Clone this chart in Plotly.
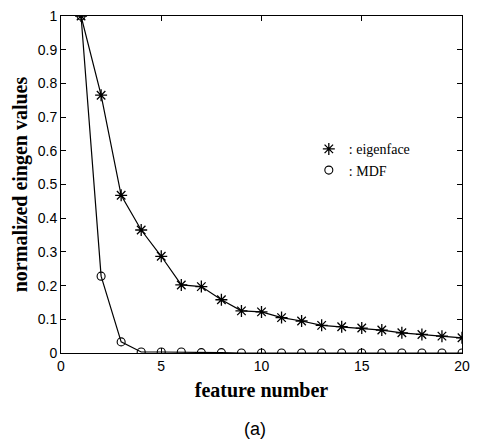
import plotly.graph_objects as go

features = list(range(1, 21))
eigenface = [1.0, 0.765, 0.468, 0.365, 0.287, 0.202, 0.197, 0.158, 0.125, 0.122,
             0.105, 0.095, 0.082, 0.078, 0.074, 0.068, 0.060, 0.055, 0.050, 0.045]
mdf = [1.0, 0.228, 0.033, 0.003, 0.003, 0.003, 0.001, 0.001, 0.0, 0.0,
       0.0, 0.0, 0.0, 0.0, 0.0, 0.0, 0.0, 0.0, 0.0, 0.0]
x_ticks = [0, 5, 10, 15, 20]
y_ticks = [0, 0.1, 0.2, 0.3, 0.4, 0.5, 0.6, 0.7, 0.8, 0.9, 1]
y_tick_labels = ["0", "0.1", "0.2", "0.3", "0.4", "0.5", "0.6", "0.7", "0.8", "0.9", "1"]

ast_marker = dict(symbol="asterisk-open", size=10, color="black",
                  line=dict(color="black", width=1.3))
circ_marker = dict(symbol="circle-open", size=8, color="black",
                   line=dict(color="black", width=1.1))

fig = go.Figure()
fig.add_trace(go.Scatter(x=features, y=eigenface, mode="lines+markers", showlegend=False,
                         line=dict(color="black", width=1.2), marker=ast_marker))
fig.add_trace(go.Scatter(x=features, y=mdf, mode="lines+markers", showlegend=False,
                         line=dict(color="black", width=1.2), marker=circ_marker))
# legend-only entries (markers without lines)
fig.add_trace(go.Scatter(x=[None], y=[None], mode="markers", name=": eigenface",
                         marker=ast_marker))
fig.add_trace(go.Scatter(x=[None], y=[None], mode="markers", name=": MDF",
                         marker=circ_marker))

axis_common = dict(showgrid=False, zeroline=False, showline=True, linecolor="black",
                   linewidth=1, mirror="ticks", ticks="inside", ticklen=5,
                   tickcolor="black",
                   tickfont=dict(family="Liberation Sans, Arial", size=14, color="black"))

fig.update_layout(
    width=478, height=444,
    margin=dict(l=61, r=8, t=14, b=91),
    paper_bgcolor="white", plot_bgcolor="white",
    xaxis=dict(range=[0, 20], tickvals=x_ticks, **axis_common,
               title=dict(text="<b>feature number</b>", standoff=10,
                          font=dict(family="Liberation Serif, Times New Roman", size=20, color="black"))),
    yaxis=dict(range=[0, 1], tickvals=y_ticks, ticktext=y_tick_labels, **axis_common,
               title=dict(text="<b>normalized eingen values</b>", standoff=4,
                          font=dict(family="Liberation Serif, Times New Roman", size=20, color="black"))),
    legend=dict(x=0.618, y=0.652, xanchor="left", yanchor="top", bgcolor="rgba(0,0,0,0)",
                font=dict(family="Liberation Serif, Times New Roman", size=14, color="black"),
                itemwidth=30, tracegroupgap=0),
    showlegend=True,
)
fig.add_annotation(text="(a)", xref="paper", yref="paper", x=0.485, y=-0.225,
                   xanchor="center", yanchor="middle", showarrow=False,
                   font=dict(family="Liberation Sans, Arial", size=18, color="black"))

fig.write_html("out.html")
